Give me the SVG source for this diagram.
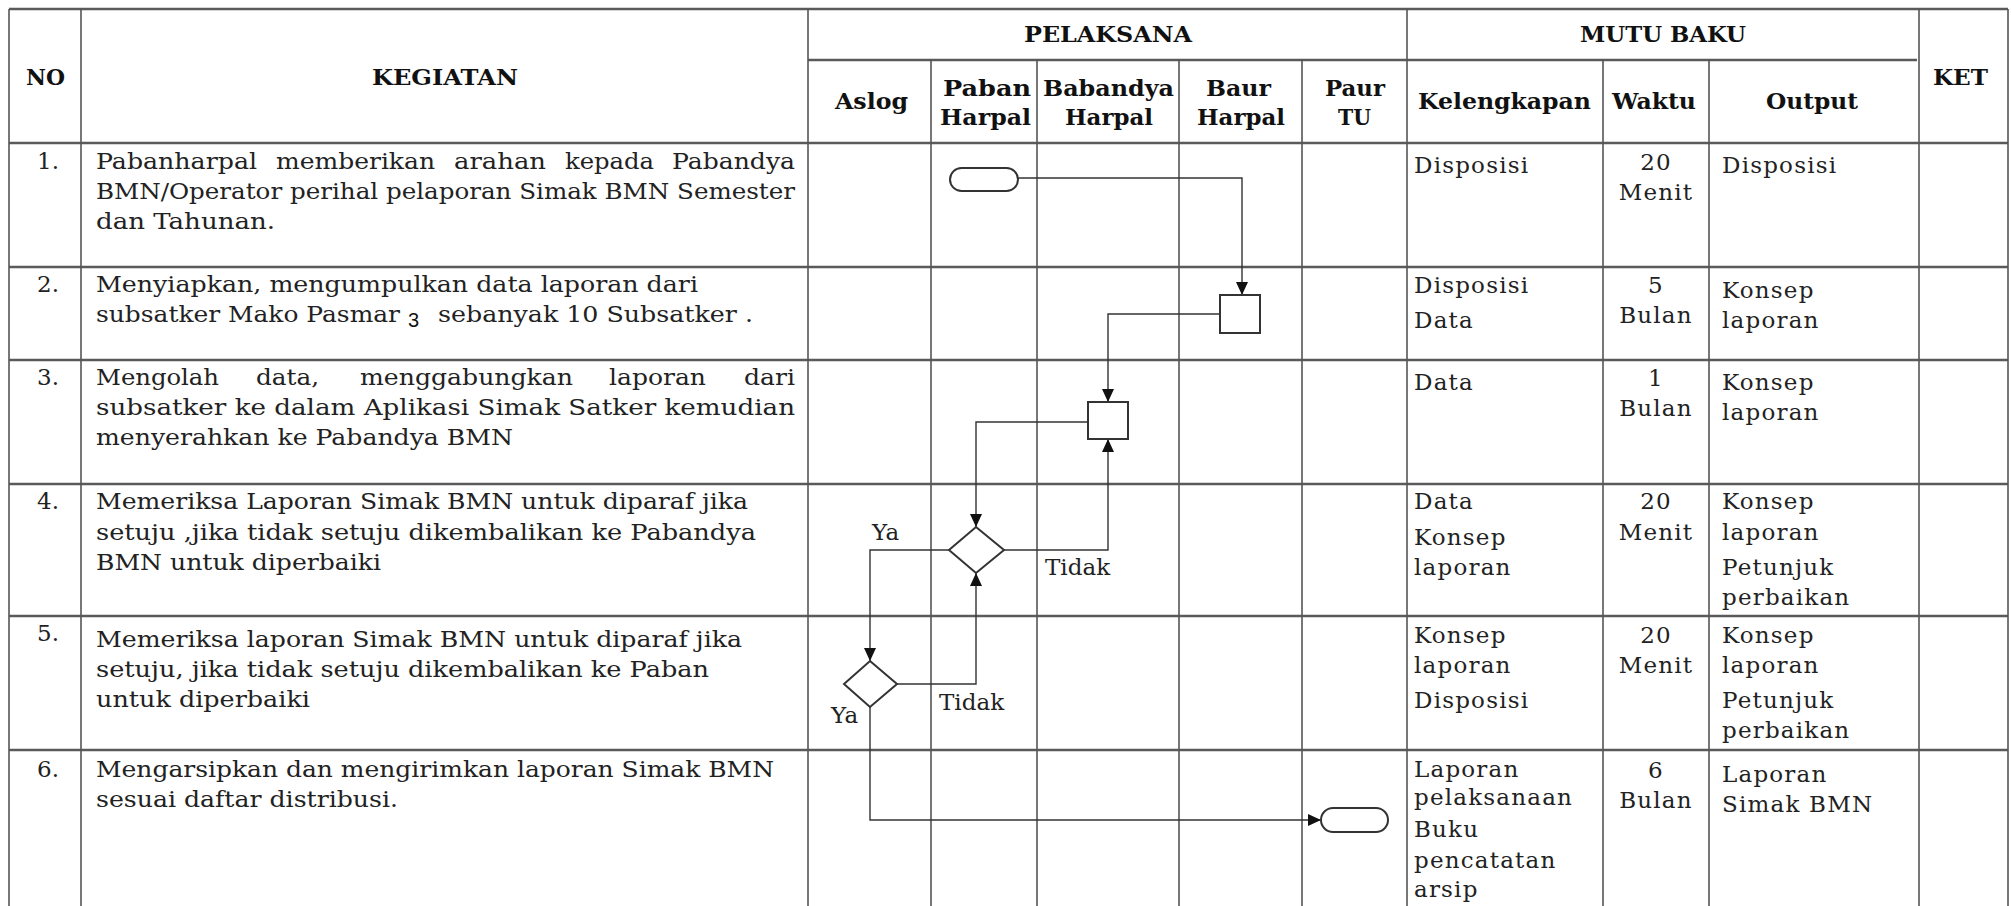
<svg xmlns="http://www.w3.org/2000/svg" width="2011" height="906" viewBox="0 0 2011 906">
<style>
.grid line{stroke:#555;stroke-width:1.6}
.grid .h{stroke-width:2.6;stroke:#5a5a5a}
.hd{font-family:"DejaVu Serif",serif;font-weight:bold;font-size:22px;fill:#111}
.t{font-family:"DejaVu Serif",serif;font-size:23px;fill:#222}
.m{font-family:"DejaVu Serif",serif;font-size:23px;fill:#222;letter-spacing:1.2px}
.c{text-anchor:middle}
.shape{fill:#fff;stroke:#333;stroke-width:2}
.conn{fill:none;stroke:#333;stroke-width:1.4}
</style>
<defs>
<marker id="arr" markerUnits="userSpaceOnUse" markerWidth="14" markerHeight="12" refX="13" refY="6" orient="auto">
<path d="M0,0 L13,6 L0,12 Z" fill="#111"/>
</marker>
</defs>
<rect width="2011" height="906" fill="#fff"/>
<g class="grid" id="table">
<line class="h" x1="9" y1="9" x2="2008" y2="9"/>
<line class="h" x1="808" y1="60" x2="1917" y2="60"/>
<line class="h" x1="9" y1="143" x2="2008" y2="143"/>
<line class="h" x1="9" y1="267" x2="2008" y2="267"/>
<line class="h" x1="9" y1="360" x2="2008" y2="360"/>
<line class="h" x1="9" y1="484" x2="2008" y2="484"/>
<line class="h" x1="9" y1="616" x2="2008" y2="616"/>
<line class="h" x1="9" y1="750" x2="2008" y2="750"/>
<line x1="9" y1="9" x2="9" y2="906"/>
<line x1="81" y1="9" x2="81" y2="906"/>
<line x1="808" y1="9" x2="808" y2="906"/>
<line x1="931" y1="60" x2="931" y2="906"/>
<line x1="1037" y1="60" x2="1037" y2="906"/>
<line x1="1179" y1="60" x2="1179" y2="906"/>
<line x1="1302" y1="60" x2="1302" y2="906"/>
<line x1="1407" y1="9" x2="1407" y2="906"/>
<line x1="1603" y1="60" x2="1603" y2="906"/>
<line x1="1709" y1="60" x2="1709" y2="906"/>
<line x1="1919" y1="9" x2="1919" y2="906"/>
<line x1="2008" y1="9" x2="2008" y2="906"/>
</g>
<g id="header">
<text class="hd" x="26" y="85" textLength="39" lengthAdjust="spacingAndGlyphs">NO</text>
<text class="hd" x="372" y="85" textLength="146" lengthAdjust="spacingAndGlyphs">KEGIATAN</text>
<text class="hd" x="1024" y="42" textLength="168" lengthAdjust="spacingAndGlyphs">PELAKSANA</text>
<text class="hd" x="1580" y="42" textLength="166" lengthAdjust="spacingAndGlyphs">MUTU BAKU</text>
<text class="hd" x="1933" y="85" textLength="55" lengthAdjust="spacingAndGlyphs">KET</text>
<text class="hd" x="835" y="109" textLength="73" lengthAdjust="spacingAndGlyphs">Aslog</text>
<text class="hd" x="943" y="96" textLength="88" lengthAdjust="spacingAndGlyphs">Paban</text>
<text class="hd" x="940" y="125" textLength="91" lengthAdjust="spacingAndGlyphs">Harpal</text>
<text class="hd" x="1043" y="96" textLength="131" lengthAdjust="spacingAndGlyphs">Babandya</text>
<text class="hd" x="1065" y="125" textLength="88" lengthAdjust="spacingAndGlyphs">Harpal</text>
<text class="hd" x="1206" y="96" textLength="65" lengthAdjust="spacingAndGlyphs">Baur</text>
<text class="hd" x="1197" y="125" textLength="88" lengthAdjust="spacingAndGlyphs">Harpal</text>
<text class="hd" x="1325" y="96" textLength="60" lengthAdjust="spacingAndGlyphs">Paur</text>
<text class="hd" x="1338" y="125" textLength="33" lengthAdjust="spacingAndGlyphs">TU</text>
<text class="hd" x="1418" y="109" textLength="173" lengthAdjust="spacingAndGlyphs">Kelengkapan</text>
<text class="hd" x="1612" y="109" textLength="84" lengthAdjust="spacingAndGlyphs">Waktu</text>
<text class="hd" x="1766" y="109" textLength="92" lengthAdjust="spacingAndGlyphs">Output</text>
</g>
<g id="row1">
<text class="t" x="37" y="169">1.</text>
<text class="t" x="96" y="169" textLength="161" lengthAdjust="spacingAndGlyphs">Pabanharpal</text>
<text class="t" x="276" y="169" textLength="159" lengthAdjust="spacingAndGlyphs">memberikan</text>
<text class="t" x="454" y="169" textLength="92" lengthAdjust="spacingAndGlyphs">arahan</text>
<text class="t" x="565" y="169" textLength="89" lengthAdjust="spacingAndGlyphs">kepada</text>
<text class="t" x="672" y="169" textLength="123" lengthAdjust="spacingAndGlyphs">Pabandya</text>
<text class="t" x="96" y="199" textLength="699" lengthAdjust="spacingAndGlyphs">BMN/Operator perihal pelaporan Simak BMN Semester</text>
<text class="t" x="96" y="229" textLength="179" lengthAdjust="spacingAndGlyphs">dan Tahunan.</text>
<text class="m" x="1414" y="173">Disposisi</text>
<text class="m c" x="1656" y="170">20</text>
<text class="m c" x="1656" y="200">Menit</text>
<text class="m" x="1722" y="173">Disposisi</text>
</g>
<g id="row2">
<text class="t" x="37" y="292">2.</text>
<text class="t" x="96" y="292" textLength="602" lengthAdjust="spacingAndGlyphs">Menyiapkan, mengumpulkan data laporan dari</text>
<text class="t" x="96" y="322" textLength="304" lengthAdjust="spacingAndGlyphs">subsatker Mako Pasmar</text>
<text x="408" y="327" font-family="Liberation Sans, sans-serif" font-size="20" fill="#111">3</text>
<text class="t" x="438" y="322" textLength="315" lengthAdjust="spacingAndGlyphs">sebanyak 10 Subsatker .</text>
<text class="m" x="1414" y="293">Disposisi</text>
<text class="m" x="1414" y="328">Data</text>
<text class="m c" x="1656" y="293">5</text>
<text class="m c" x="1656" y="323">Bulan</text>
<text class="m" x="1722" y="298">Konsep</text>
<text class="m" x="1722" y="328">laporan</text>
</g>
<g id="row3">
<text class="t" x="37" y="385">3.</text>
<text class="t" x="96" y="385" textLength="123" lengthAdjust="spacingAndGlyphs">Mengolah</text>
<text class="t" x="256" y="385" textLength="63" lengthAdjust="spacingAndGlyphs">data,</text>
<text class="t" x="360" y="385" textLength="213" lengthAdjust="spacingAndGlyphs">menggabungkan</text>
<text class="t" x="609" y="385" textLength="97" lengthAdjust="spacingAndGlyphs">laporan</text>
<text class="t" x="744" y="385" textLength="51" lengthAdjust="spacingAndGlyphs">dari</text>
<text class="t" x="96" y="415" textLength="699" lengthAdjust="spacingAndGlyphs">subsatker ke dalam Aplikasi Simak Satker kemudian</text>
<text class="t" x="96" y="445" textLength="417" lengthAdjust="spacingAndGlyphs">menyerahkan ke Pabandya BMN</text>
<text class="m" x="1414" y="390">Data</text>
<text class="m c" x="1656" y="386">1</text>
<text class="m c" x="1656" y="416">Bulan</text>
<text class="m" x="1722" y="390">Konsep</text>
<text class="m" x="1722" y="420">laporan</text>
</g>
<g id="row4">
<text class="t" x="37" y="509">4.</text>
<text class="t" x="96" y="509" textLength="652" lengthAdjust="spacingAndGlyphs">Memeriksa Laporan Simak BMN untuk diparaf jika</text>
<text class="t" x="96" y="540" textLength="660" lengthAdjust="spacingAndGlyphs">setuju ,jika tidak setuju dikembalikan ke Pabandya</text>
<text class="t" x="96" y="570" textLength="285" lengthAdjust="spacingAndGlyphs">BMN untuk diperbaiki</text>
<text class="m" x="1414" y="509">Data</text>
<text class="m" x="1414" y="545">Konsep</text>
<text class="m" x="1414" y="575">laporan</text>
<text class="m c" x="1656" y="509">20</text>
<text class="m c" x="1656" y="540">Menit</text>
<text class="m" x="1722" y="509">Konsep</text>
<text class="m" x="1722" y="540">laporan</text>
<text class="m" x="1722" y="575">Petunjuk</text>
<text class="m" x="1722" y="605">perbaikan</text>
</g>
<g id="row5">
<text class="t" x="37" y="641">5.</text>
<text class="t" x="96" y="647" textLength="646" lengthAdjust="spacingAndGlyphs">Memeriksa laporan Simak BMN untuk diparaf jika</text>
<text class="t" x="96" y="677" textLength="613" lengthAdjust="spacingAndGlyphs">setuju, jika tidak setuju dikembalikan ke Paban</text>
<text class="t" x="96" y="707" textLength="214" lengthAdjust="spacingAndGlyphs">untuk diperbaiki</text>
<text class="m" x="1414" y="643">Konsep</text>
<text class="m" x="1414" y="673">laporan</text>
<text class="m" x="1414" y="708">Disposisi</text>
<text class="m c" x="1656" y="643">20</text>
<text class="m c" x="1656" y="673">Menit</text>
<text class="m" x="1722" y="643">Konsep</text>
<text class="m" x="1722" y="673">laporan</text>
<text class="m" x="1722" y="708">Petunjuk</text>
<text class="m" x="1722" y="738">perbaikan</text>
</g>
<g id="row6">
<text class="t" x="37" y="777">6.</text>
<text class="t" x="96" y="777" textLength="678" lengthAdjust="spacingAndGlyphs">Mengarsipkan dan mengirimkan laporan Simak BMN</text>
<text class="t" x="96" y="807" textLength="302" lengthAdjust="spacingAndGlyphs">sesuai daftar distribusi.</text>
<text class="m" x="1414" y="777">Laporan</text>
<text class="m" x="1414" y="805">pelaksanaan</text>
<text class="m" x="1414" y="837">Buku</text>
<text class="m" x="1414" y="868">pencatatan</text>
<text class="m" x="1414" y="897">arsip</text>
<text class="m c" x="1656" y="778">6</text>
<text class="m c" x="1656" y="808">Bulan</text>
<text class="m" x="1722" y="782">Laporan</text>
<text class="m" x="1722" y="812">Simak BMN</text>
</g>
<g id="connectors">
<polyline class="conn" points="1018,178 1242,178 1242,295" marker-end="url(#arr)"/>
<polyline class="conn" points="1220,314 1108,314 1108,402" marker-end="url(#arr)"/>
<polyline class="conn" points="1088,422 976,422 976,527" marker-end="url(#arr)"/>
<polyline class="conn" points="1004,550 1108,550 1108,439" marker-end="url(#arr)"/>
<polyline class="conn" points="949,550 870,550 870,661" marker-end="url(#arr)"/>
<polyline class="conn" points="897,684 976,684 976,573" marker-end="url(#arr)"/>
<polyline class="conn" points="870,707 870,820 1321,820" marker-end="url(#arr)"/>
<text class="t" x="1045" y="575" font-size="22">Tidak</text>
<text class="t" x="872" y="540" font-size="22">Ya</text>
<text class="t" x="939" y="710" font-size="22">Tidak</text>
<text class="t" x="831" y="723" font-size="22">Ya</text>
</g>
<g id="start"><rect class="shape" x="950" y="168" width="68" height="23" rx="11.5"/></g>
<g id="step-baur"><rect class="shape" x="1220" y="295" width="40" height="38"/></g>
<g id="step-babandya"><rect class="shape" x="1088" y="402" width="40" height="37"/></g>
<g id="decision-paban"><polygon class="shape" points="976,527 1004,550 976,573 949,550"/></g>
<g id="decision-aslog"><polygon class="shape" points="870,661 897,684 870,707 844,684"/></g>
<g id="end"><rect class="shape" x="1321" y="808" width="67" height="24" rx="12"/></g>
</svg>
